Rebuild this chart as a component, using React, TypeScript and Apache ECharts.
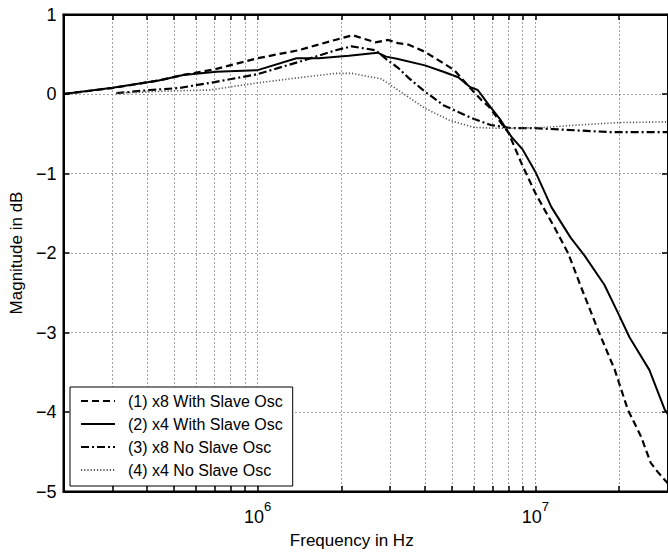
import React, { useEffect, useRef } from "react";
import * as echarts from "echarts";

// (1) x8 With Slave Osc  (dashed)
const FREQ_1 = [2e5, 3e5, 4.4e5, 5.4e5, 7e5, 1e6, 1.4e6, 1.9e6, 2.2e6, 2.65e6, 2.95e6, 3.2e6, 3.5e6, 4e6, 4.65e6, 5.1e6, 5.7e6, 6.4e6, 6.8e6, 8e6, 8.9e6, 1e7, 1.18e7, 1.31e7, 1.46e7, 1.68e7, 1.93e7, 2.15e7, 2.4e7, 2.6e7, 2.75e7, 3e7];
const MAG_1 = [0, 0.075, 0.17, 0.24, 0.31, 0.45, 0.55, 0.68, 0.74, 0.65, 0.68, 0.64, 0.62, 0.53, 0.39, 0.3, 0.11, -0.08, -0.16, -0.49, -0.87, -1.25, -1.7, -2.0, -2.43, -2.97, -3.47, -3.97, -4.31, -4.64, -4.75, -4.9];

// (2) x4 With Slave Osc  (solid)
const FREQ_2 = [2e5, 3e5, 4.4e5, 5.4e5, 7.1e5, 1e6, 1.38e6, 1.66e6, 2.13e6, 2.7e6, 2.9e6, 3.2e6, 4e6, 4.66e6, 5.27e6, 5.8e6, 6.2e6, 6.8e6, 7.5e6, 8.2e6, 9e6, 1e7, 1.14e7, 1.34e7, 1.5e7, 1.77e7, 1.98e7, 2.18e7, 2.57e7, 2.92e7, 3e7];
const MAG_2 = [0, 0.08, 0.17, 0.24, 0.28, 0.3, 0.45, 0.45, 0.48, 0.52, 0.47, 0.44, 0.36, 0.28, 0.21, 0.09, 0.05, -0.14, -0.33, -0.54, -0.7, -0.98, -1.42, -1.81, -2.03, -2.4, -2.75, -3.06, -3.47, -3.97, -4.03];

// (3) x8 No Slave Osc  (dash-dot)
const FREQ_3 = [3.1e5, 4.1e5, 5.2e5, 7e5, 1e6, 1.49e6, 1.91e6, 2.18e6, 2.66e6, 2.9e6, 3.2e6, 3.5e6, 4e6, 4.66e6, 5.87e6, 6.9e6, 8.2e6, 1e7, 1.28e7, 1.87e7, 3e7];
const MAG_3 = [0.01, 0.05, 0.075, 0.15, 0.25, 0.43, 0.55, 0.6, 0.55, 0.44, 0.33, 0.2, 0.03, -0.14, -0.3, -0.39, -0.43, -0.43, -0.45, -0.48, -0.48];

// (4) x4 No Slave Osc  (dotted)
const FREQ_4 = [3.1e5, 5e5, 6.7e5, 1e6, 1.45e6, 1.91e6, 2.18e6, 2.5e6, 2.79e6, 3.2e6, 4e6, 4.9e6, 6e6, 7.2e6, 8.6e6, 1.08e7, 1.42e7, 1.98e7, 3e7];
const MAG_4 = [0.01, 0.04, 0.05, 0.14, 0.21, 0.26, 0.26, 0.22, 0.19, 0.05, -0.18, -0.33, -0.42, -0.43, -0.43, -0.42, -0.39, -0.36, -0.35];

const SERIES_NAMES = [
  "(1) x8 With Slave Osc",
  "(2) x4 With Slave Osc",
  "(3) x8 No Slave Osc",
  "(4) x4 No Slave Osc",
];

// vertical (log) grid lines / ticks
const GRID_FREQS = [3e5, 4e5, 5e5, 6e5, 7e5, 8e5, 9e5, 1e6, 2e6, 3e6, 4e6, 5e6, 6e6, 7e6, 8e6, 9e6, 1e7, 2e7];

const X_MIN = 2e5;
const X_MAX = 3e7;
const Y_MIN = -5;
const Y_MAX = 1;
const Y_STEP = 1;
const TICK_LEN = 0.07; // in dB units (~5.5 px)

const FONT = "'Liberation Sans', Arial, Helvetica, sans-serif";

const zip = (xs: number[], ys: number[]) => xs.map((x, i) => [x, ys[i]]);

export default function App() {
  const ref = useRef<HTMLDivElement>(null);

  useEffect(() => {
    if (!ref.current) return;
    const chart = echarts.init(ref.current, undefined, { renderer: "svg" });

    const lineBase = { type: "line" as const, symbol: "none", showSymbol: false, smooth: false, z: 3, xAxisIndex: 0, yAxisIndex: 0 };

    const tickSegments: any[] = [];
    GRID_FREQS.forEach((f) => {
      tickSegments.push([{ coord: [f, Y_MIN] }, { coord: [f, Y_MIN + TICK_LEN] }]);
      tickSegments.push([{ coord: [f, Y_MAX] }, { coord: [f, Y_MAX - TICK_LEN] }]);
    });

    const option: any = {
      animation: false,
      backgroundColor: "#fff",
      grid: {
        left: 63.5,
        top: 14.5,
        width: 606,
        height: 477,
        show: true,
        borderColor: "#000",
        borderWidth: 2,
        backgroundColor: "transparent",
        z: 10,
      },
      legend: {
        data: SERIES_NAMES,
        orient: "vertical",
        left: 70,
        bottom: 69,
        padding: [6, 10, 8, 10],
        itemGap: 7,
        itemWidth: 34,
        itemHeight: 16,
        backgroundColor: "#fff",
        borderColor: "#000",
        borderWidth: 1,
        borderRadius: 0,
        itemStyle: { color: "rgba(0,0,0,0)", borderWidth: 0, opacity: 0 },
        textStyle: { fontFamily: FONT, fontSize: 16, color: "#000", padding: [0, 0, 0, 8] },
        z: 20,
      },
      xAxis: [
        {
          type: "log",
          logBase: 10,
          min: X_MIN,
          max: X_MAX,
          position: "bottom",
          name: "Frequency in Hz",
          nameLocation: "middle",
          nameGap: 40,
          nameTextStyle: { fontFamily: FONT, fontSize: 17, color: "#000", padding: [0, 28, 0, 0] },
          axisLine: { show: true, onZero: false, lineStyle: { color: "#000", width: 2 } },
          axisTick: { show: false },
          splitLine: { show: false },
          axisLabel: {
            showMinLabel: false,
            showMaxLabel: false,
            margin: 8,
            formatter: (v: number) => {
              const l = Math.log10(v);
              if (Math.abs(l - Math.round(l)) < 1e-6) return `{b|10}{s|${Math.round(l)}}`;
              return "";
            },
            rich: {
              b: { fontFamily: FONT, fontSize: 18, color: "#000", padding: [8, 0, 0, 0] },
              s: { fontFamily: FONT, fontSize: 13, color: "#000", verticalAlign: "top" },
            },
          },
        },
        {
          type: "log",
          logBase: 10,
          min: X_MIN,
          max: X_MAX,
          position: "top",
          axisLine: { show: true, onZero: false, lineStyle: { color: "#000", width: 2 } },
          axisTick: { show: false },
          axisLabel: { show: false },
          splitLine: { show: false },
        },
      ],
      yAxis: [
        {
          type: "value",
          min: Y_MIN,
          max: Y_MAX,
          interval: Y_STEP,
          position: "left",
          name: "Magnitude in dB",
          nameLocation: "middle",
          nameGap: 34,
          nameTextStyle: { fontFamily: FONT, fontSize: 17, color: "#000" },
          axisLine: { show: true, onZero: false, lineStyle: { color: "#000", width: 2 } },
          axisTick: { show: true, inside: true, length: 6, lineStyle: { color: "#000", width: 1.5 } },
          axisLabel: {
            margin: 7,
            fontFamily: FONT,
            fontSize: 18,
            color: "#000",
            formatter: (v: number) => String(v).replace("-", "\u2212"),
          },
          splitLine: { show: true, lineStyle: { color: "#444", width: 1, type: [1, 3] } },
        },
        {
          type: "value",
          min: Y_MIN,
          max: Y_MAX,
          interval: Y_STEP,
          position: "right",
          axisLine: { show: true, onZero: false, lineStyle: { color: "#000", width: 2 } },
          axisTick: { show: true, inside: true, length: 6, lineStyle: { color: "#000", width: 1.5 } },
          axisLabel: { show: false },
          splitLine: { show: false },
        },
      ],
      series: [
        {
          name: "_grid",
          type: "line",
          xAxisIndex: 0,
          yAxisIndex: 0,
          data: [],
          silent: true,
          z: 1,
          markLine: {
            silent: true,
            symbol: ["none", "none"],
            label: { show: false },
            lineStyle: { color: "#444", width: 1, type: [1, 3] },
            data: GRID_FREQS.map((f) => ({ xAxis: f })),
          },
        },
        {
          name: "_ticks",
          type: "line",
          xAxisIndex: 0,
          yAxisIndex: 0,
          data: [],
          silent: true,
          z: 4,
          markLine: {
            silent: true,
            symbol: ["none", "none"],
            label: { show: false },
            lineStyle: { color: "#000", width: 1.5, type: "solid" },
            data: tickSegments,
          },
        },
        {
          ...lineBase,
          name: SERIES_NAMES[0],
          data: zip(FREQ_1, MAG_1),
          lineStyle: { color: "#000", width: 2.2, type: [7, 4] },
          itemStyle: { color: "#000" },
        },
        {
          ...lineBase,
          name: SERIES_NAMES[1],
          data: zip(FREQ_2, MAG_2),
          lineStyle: { color: "#000", width: 2, type: "solid" },
          itemStyle: { color: "#000" },
        },
        {
          ...lineBase,
          name: SERIES_NAMES[2],
          data: zip(FREQ_3, MAG_3),
          lineStyle: { color: "#000", width: 2.2, type: [8, 3, 2, 3] },
          itemStyle: { color: "#000" },
        },
        {
          ...lineBase,
          name: SERIES_NAMES[3],
          data: zip(FREQ_4, MAG_4),
          lineStyle: { color: "#555", width: 1.6, type: [1.2, 2] },
          itemStyle: { color: "#555" },
        },
      ],
    };

    chart.setOption(option);
    return () => chart.dispose();
  }, []);

  return (
    <div
      ref={ref}
      style={{ position: "absolute", left: 0, top: 0, width: 668, height: 555 }}
    />
  );
}
